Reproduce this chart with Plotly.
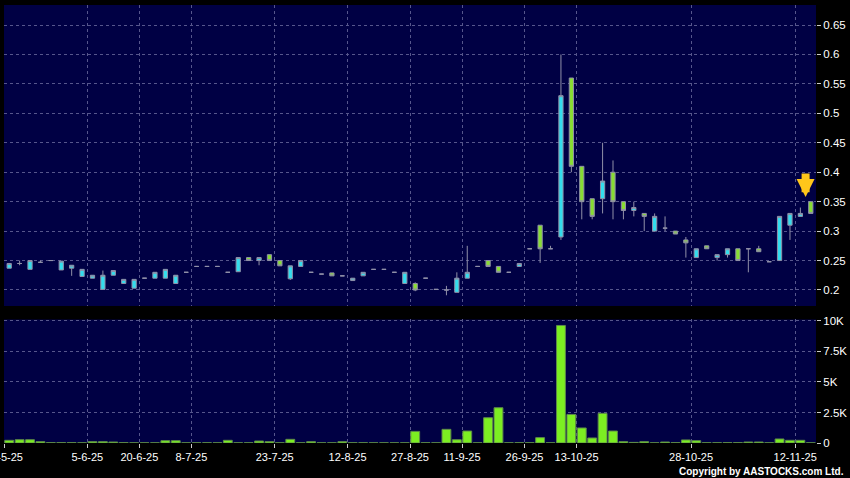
import plotly.graph_objects as go
from plotly.subplots import make_subplots

# ---- data (one entry per traded day, index 0..77) ----
open_ = [0.237, 0.245, 0.235, 0.247, 0.250, 0.234, 0.237, 0.223, 0.220, 0.201,
         0.225, 0.211, 0.203, 0.220, 0.220, 0.220, 0.211, 0.230, 0.240, 0.240,
         0.240, 0.230, 0.231, 0.255, 0.250, 0.260, 0.250, 0.219, 0.240, 0.230,
         0.227, 0.229, 0.224, 0.216, 0.224, 0.235, 0.235, 0.230, 0.211, 0.211,
         0.220, 0.201, 0.200, 0.196, 0.220, 0.240, 0.250, 0.240, 0.230, 0.240,
         0.270, 0.310, 0.270, 0.290, 0.560, 0.410, 0.355, 0.355, 0.400, 0.350,
         0.335, 0.330, 0.300, 0.305, 0.300, 0.285, 0.255, 0.275, 0.255, 0.260,
         0.270, 0.270, 0.270, 0.248, 0.250, 0.310, 0.325, 0.350]
high = [0.245, 0.250, 0.250, 0.250, 0.250, 0.249, 0.242, 0.235, 0.225, 0.233,
        0.233, 0.218, 0.218, 0.220, 0.230, 0.235, 0.225, 0.230, 0.240, 0.240,
        0.240, 0.230, 0.255, 0.255, 0.255, 0.260, 0.250, 0.241, 0.250, 0.230,
        0.227, 0.229, 0.224, 0.220, 0.230, 0.235, 0.235, 0.230, 0.230, 0.213,
        0.220, 0.201, 0.207, 0.230, 0.275, 0.240, 0.250, 0.240, 0.230, 0.245,
        0.270, 0.310, 0.275, 0.600, 0.560, 0.410, 0.355, 0.450, 0.420, 0.350,
        0.350, 0.330, 0.330, 0.325, 0.300, 0.290, 0.270, 0.275, 0.260, 0.270,
        0.270, 0.270, 0.275, 0.248, 0.325, 0.330, 0.340, 0.350]
low = [0.237, 0.242, 0.235, 0.247, 0.250, 0.234, 0.224, 0.223, 0.220, 0.201,
       0.225, 0.211, 0.203, 0.220, 0.220, 0.220, 0.211, 0.230, 0.240, 0.240,
       0.240, 0.230, 0.231, 0.250, 0.242, 0.250, 0.241, 0.217, 0.240, 0.230,
       0.227, 0.224, 0.224, 0.216, 0.224, 0.235, 0.235, 0.230, 0.211, 0.198,
       0.220, 0.201, 0.191, 0.196, 0.220, 0.240, 0.240, 0.230, 0.230, 0.240,
       0.270, 0.246, 0.270, 0.285, 0.400, 0.320, 0.320, 0.330, 0.320, 0.320,
       0.325, 0.300, 0.300, 0.300, 0.295, 0.255, 0.255, 0.270, 0.250, 0.255,
       0.250, 0.230, 0.265, 0.248, 0.250, 0.285, 0.325, 0.330]
close = [0.245, 0.245, 0.250, 0.247, 0.250, 0.249, 0.242, 0.235, 0.225, 0.225,
         0.233, 0.218, 0.218, 0.220, 0.230, 0.235, 0.225, 0.230, 0.240, 0.240,
         0.240, 0.230, 0.255, 0.250, 0.255, 0.250, 0.241, 0.241, 0.250, 0.230,
         0.227, 0.224, 0.224, 0.220, 0.230, 0.235, 0.235, 0.230, 0.230, 0.200,
         0.220, 0.201, 0.200, 0.220, 0.230, 0.240, 0.240, 0.230, 0.230, 0.245,
         0.270, 0.270, 0.270, 0.530, 0.410, 0.350, 0.325, 0.385, 0.350, 0.335,
         0.340, 0.325, 0.325, 0.305, 0.295, 0.280, 0.270, 0.270, 0.260, 0.270,
         0.250, 0.270, 0.265, 0.248, 0.325, 0.330, 0.330, 0.330]
volume = [220, 270, 270, 110, 30, 30, 30, 10, 110, 110,
          80, 30, 10, 10, 10, 190, 190, 10, 10, 20,
          10, 220, 10, 10, 160, 110, 10, 300, 10, 110,
          10, 10, 110, 20, 20, 10, 10, 10, 10, 950,
          20, 10, 1120, 270, 980, 10, 2070, 2890, 10, 20,
          20, 440, 10, 9630, 2340, 1230, 410, 2430, 980, 110,
          50, 110, 10, 80, 30, 250, 190, 20, 20, 30,
          30, 80, 80, 10, 330, 220, 220, 10]

tick_pos = [-0.5, 7.5, 12.5, 17.5, 25.5, 32.5, 38.5, 43.5, 49.5, 54.5, 65.5, 75.5]
tick_labels = ["22-5-25", "5-6-25", "20-6-25", "8-7-25", "23-7-25", "12-8-25",
               "27-8-25", "11-9-25", "26-9-25", "13-10-25", "28-10-25", "12-11-25"]
price_ticks = [0.2, 0.25, 0.3, 0.35, 0.4, 0.45, 0.5, 0.55, 0.6, 0.65]
price_tick_text = ["0.2", "0.25", "0.3", "0.35", "0.4", "0.45", "0.5", "0.55", "0.6", "0.65"]
vol_ticks = [0, 2500, 5000, 7500, 10000]
vol_tick_text = ["0", "2.5K", "5K", "7.5K", "10K"]

x = list(range(len(close)))

NAVY = "#000044"
CYAN = "#33DDEE"
GREEN = "#88DD33"
EDGE = "#9090A8"
GRID = "#56568C"
FONT = "Liberation Sans, Arial, sans-serif"
TICKFONT = dict(family=FONT, size=11.5, color="white")

fig = make_subplots(rows=2, cols=1, shared_xaxes=True, vertical_spacing=0.03)

fig.add_trace(go.Candlestick(
    x=x, open=open_, high=high, low=low, close=close,
    increasing=dict(fillcolor=CYAN, line=dict(color=EDGE, width=1)),
    decreasing=dict(fillcolor=GREEN, line=dict(color=EDGE, width=1)),
    whiskerwidth=0, showlegend=False, hoverinfo="skip"), row=1, col=1)

fig.add_trace(go.Bar(
    x=x, y=volume, marker=dict(color="#7CEE22", line=dict(color="#5E8A4A", width=1)),
    showlegend=False, hoverinfo="skip"), row=2, col=1)

axis_common = dict(showgrid=True, gridcolor=GRID, griddash="3px,3px", gridwidth=1,
                   zeroline=False, showline=False, automargin=False)

fig.update_xaxes(range=[-0.5, 77.5], tickmode="array", tickvals=tick_pos,
                 rangeslider_visible=False, **axis_common)
fig.update_xaxes(showticklabels=False, ticks="", row=1, col=1)
fig.update_xaxes(ticktext=tick_labels, showticklabels=True, ticks="outside",
                 ticklen=4, tickcolor="#CCCCCC", ticklabeloverflow="allow",
                 tickfont=dict(family=FONT, size=11, color="white"), row=2, col=1)

fig.update_yaxes(side="right", range=[0.1728, 0.684], tickmode="array",
                 tickvals=price_ticks, ticktext=price_tick_text, ticks="outside",
                 ticklen=4, tickcolor="#CCCCCC", ticklabeloverflow="allow",
                 tickfont=TICKFONT, **axis_common, row=1, col=1)
fig.update_yaxes(side="right", range=[0, 10120], tickmode="array",
                 tickvals=vol_ticks, ticktext=vol_tick_text, ticks="outside",
                 ticklen=4, tickcolor="#CCCCCC", ticklabeloverflow="allow",
                 tickfont=TICKFONT, **axis_common, row=2, col=1)

fig.update_layout(
    width=850, height=478,
    margin=dict(l=4, r=34, t=5, b=35, autoexpand=False),
    paper_bgcolor="black", plot_bgcolor=NAVY,
    bargap=0.15, boxgap=0.42,
    yaxis=dict(domain=[0.3128, 1.0]),
    yaxis2=dict(domain=[0.0, 0.282]),
    annotations=[
        dict(x=76.5, y=high[-1] + 0.008, xref="x", yref="y", showarrow=True,
             ax=0, ay=-25, arrowhead=2, arrowsize=0.45, arrowwidth=8,
             arrowcolor="#FFC61A", text=""),
        dict(x=1.037, y=-0.064, xref="paper", yref="paper", xanchor="right",
             yanchor="middle", showarrow=False,
             text="<b>Copyright by AASTOCKS.com Ltd.</b>",
             font=dict(family=FONT, size=10, color="white")),
    ],
)

fig.write_html(
    "out.html",
    config={"displayModeBar": False},
    post_script="document.body.style.margin='0';document.body.style.background='black';",
)
